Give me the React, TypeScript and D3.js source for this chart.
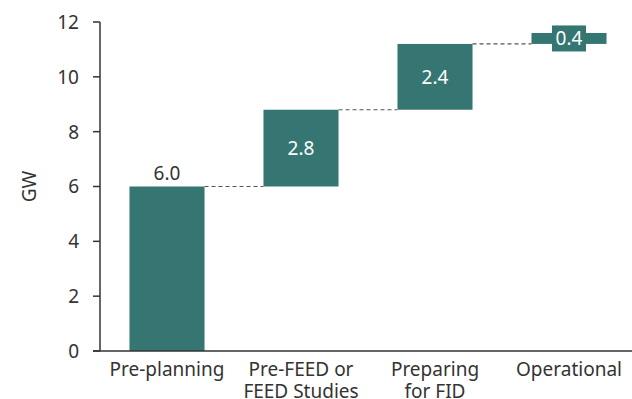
import React from "react";
import * as d3 from "d3";

const categories = ["Pre-planning", "Pre-FEED or\nFEED Studies", "Preparing\nfor FID", "Operational"];
const increments = [6.0, 2.8, 2.4, 0.4];
const yTicks = [0, 2, 4, 6, 8, 10, 12];

const W = 632, H = 399;
const left = 100, right = 636, top = 22, bottom = 351;
const barColor = "#357672";
const textColor = "#333333";
const font = "'Noto Sans', sans-serif";
const fs = 19;

export default function App() {
  const x = d3.scaleBand<string>().domain(categories).range([left, right]).paddingInner(0.44).paddingOuter(0.22);
  const y = d3.scaleLinear().domain([0, 12]).range([bottom, top]);
  let cum = 0;
  const bars = increments.map((v, i) => {
    const start = cum;
    cum += v;
    return { cat: categories[i], start, end: cum, v, i };
  });
  const bw = x.bandwidth();
  return (
    <svg width={W} height={H} style={{ display: "block", position: "fixed", left: 0, top: 0, fontFamily: font, background: "#fff" }}>
      {bars.slice(0, -1).map((b, i) => (
        <line key={"c" + i} x1={x(b.cat)! + bw} x2={x(bars[i + 1].cat)!} y1={y(b.end)} y2={y(b.end)}
          stroke="#555" strokeWidth={1.2} strokeDasharray="4,3" />
      ))}
      {bars.map((b) => (
        <rect key={b.cat} x={x(b.cat)} width={bw} y={y(b.end)} height={y(b.start) - y(b.end)} fill={barColor} />
      ))}
      {bars.map((b) => {
        const cx = x(b.cat)! + bw / 2;
        const label = b.v.toFixed(1);
        if (b.i === 0) {
          return (
            <text key={"l" + b.i} x={cx} y={y(b.end) - 7} textAnchor="middle" fontSize={fs} fill={textColor}>{label}</text>
          );
        }
        const cy = (y(b.start) + y(b.end)) / 2;
        const small = y(b.start) - y(b.end) < 28;
        return (
          <g key={"l" + b.i}>
            {small && <rect x={cx - 17} y={cy - 13} width={34} height={26} fill={barColor} />}
            <text x={cx} y={cy} dy="0.36em" textAnchor="middle" fontSize={fs} fill="#ffffff">{label}</text>
          </g>
        );
      })}
      <line x1={left} x2={left} y1={top} y2={bottom} stroke="#333" strokeWidth={1.5} />
      {yTicks.map((t) => (
        <g key={t}>
          <line x1={left - 7} x2={left} y1={y(t)} y2={y(t)} stroke="#333" strokeWidth={1.5} />
          <text x={left - 21} y={y(t)} dy="0.36em" textAnchor="end" fontSize={fs} fill={textColor}>{t}</text>
        </g>
      ))}
      <line x1={left - 7} x2={W} y1={bottom} y2={bottom} stroke="#333" strokeWidth={1.5} />
      {categories.map((c) => {
        const lines = c.split("\n");
        return (
          <text key={c} x={x(c)! + bw / 2} y={bottom + 25} textAnchor="middle" fontSize={fs} fill={textColor}>
            {lines.map((l, j) => (
              <tspan key={j} x={x(c)! + bw / 2} dy={j === 0 ? 0 : 22}>{l}</tspan>
            ))}
          </text>
        );
      })}
      <text transform={`translate(36,${y(6)}) rotate(-90)`} textAnchor="middle" fontSize={fs} fill={textColor}>GW</text>
    </svg>
  );
}
